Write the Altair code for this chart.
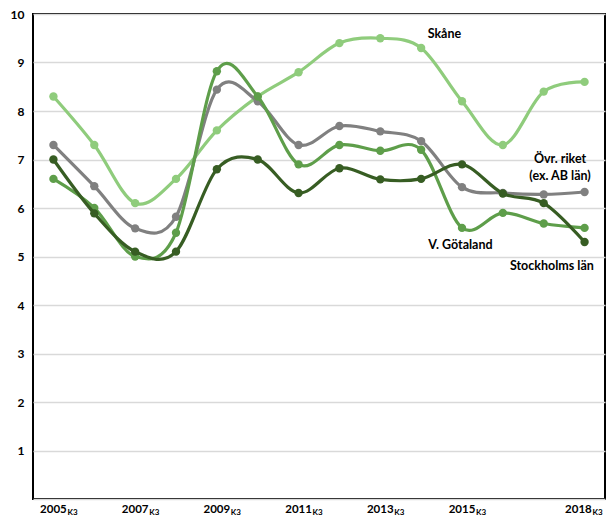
import altair as alt
import pandas as pd

years = list(range(2005, 2019))
skane = [8.3, 7.3, 6.1, 6.6, 7.6, 8.3, 8.8, 9.4, 9.5, 9.3, 8.2, 7.3, 8.4, 8.6]
ovr_riket = [7.3, 6.45, 5.58, 5.82, 8.44, 8.2, 7.3, 7.69, 7.58, 7.38, 6.43, 6.31, 6.28, 6.33]
v_gotaland = [6.6, 6.0, 5.0, 5.49, 8.82, 8.3, 6.9, 7.3, 7.18, 7.2, 5.59, 5.9, 5.68, 5.59]
stockholm = [7.0, 5.89, 5.1, 5.1, 6.8, 7.0, 6.31, 6.82, 6.59, 6.6, 6.9, 6.3, 6.1, 5.3]

series_names = ["Skåne", "Övr. riket", "V. Götaland", "Stockholms län"]
series_values = [skane, ovr_riket, v_gotaland, stockholm]
series_colors = ["#8fcc7c", "#808080", "#5e9e4a", "#375d23"]

tick_years = [2005, 2007, 2009, 2011, 2013, 2015, 2018]
tick_pos = [2005, 2007, 2009, 2011, 2013, 2015, 2017.85]
tick_text = ["2005", "2007", "2009", "2011", "2013", "2015", "2018"]
tick_sub = ["K3"] * 7

label_text = ["Skåne", "Övr. riket\n(ex. AB län)", "V. Götaland", "Stockholms län"]
label_x = [2014.57, 2017.4, 2014.96, 2017.2]
label_y = [9.59, 7.01, 5.23, 4.81]

rows = []
for order, (name, vals) in enumerate(zip(series_names, series_values)):
    for y, v in zip(years, vals):
        rows.append({"serie": name, "year": y, "value": v, "order": order})
df = pd.DataFrame(rows)

ticks_df = pd.DataFrame({"year": tick_years, "pos": tick_pos, "text": tick_text, "sub": tick_sub})
labels_df = pd.DataFrame({"text": label_text, "x": label_x, "y": label_y})

W, H = 572, 485
xscale = alt.Scale(domain=[2004.5, 2018.5], nice=False, zero=False)
yscale = alt.Scale(domain=[0, 10], nice=False)
color = alt.Color("serie:N", scale=alt.Scale(domain=series_names, range=series_colors), legend=None)

layers = []
for name in series_names:
    sub = df[df["serie"] == name]
    base = alt.Chart(sub)
    line = base.mark_line(interpolate="cardinal", tension=0, strokeWidth=3.2).encode(
        x=alt.X("year:Q", scale=xscale, axis=None),
        y=alt.Y("value:Q", scale=yscale,
                axis=alt.Axis(values=list(range(0, 11)), title=None, ticks=False, domain=False,
                              grid=True, gridColor="#d9d9d9", gridWidth=1.3,
                              labelExpr="datum.value == 0 ? '' : datum.label",
                              labelFont="Lato", labelFontWeight="bold", labelFontSize=12,
                              labelColor="#000000", labelPadding=9)),
        color=color,
    )
    pts = base.mark_circle(size=70, opacity=1).encode(
        x=alt.X("year:Q", scale=xscale, axis=None),
        y=alt.Y("value:Q", scale=yscale),
        color=color,
    )
    layers += [line, pts]

tick_main = alt.Chart(ticks_df).mark_text(
    font="Lato", fontWeight="bold", fontSize=11.5, color="#000000", baseline="middle", align="center"
).encode(x=alt.X("pos:Q", scale=xscale), y=alt.value(H + 11), text="text:N")

tick_subs = alt.Chart(ticks_df).mark_text(
    font="Lato", fontWeight="bold", fontSize=8, color="#000000", baseline="middle", align="left", dx=14, dy=3
).encode(x=alt.X("pos:Q", scale=xscale), y=alt.value(H + 11), text="sub:N")

ann = alt.Chart(labels_df).mark_text(
    font="Lato", fontWeight="bold", fontSize=12.5, color="#000000", baseline="middle", align="center",
    lineBreak="\n", lineHeight=17
).encode(x=alt.X("x:Q", scale=xscale), y=alt.Y("y:Q", scale=yscale), text="text:N")

chart = alt.layer(*layers, tick_main, tick_subs, ann).properties(
    width=W, height=H,
    background="#ffffff",
    autosize=alt.AutoSizeParams(type="none"),
    padding={"left": 25, "top": 6, "right": 1, "bottom": 17},
).configure_view(stroke="#000000", strokeWidth=2)

chart.save("out.html", embed_options={"renderer": "svg", "actions": False})
